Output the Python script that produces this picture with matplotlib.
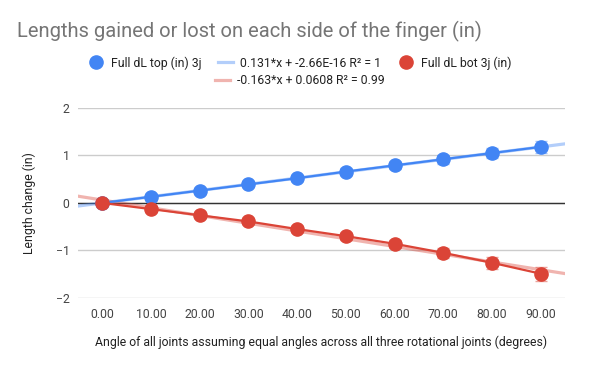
import numpy as np
import matplotlib
matplotlib.use("Agg")
import matplotlib.pyplot as plt

plt.rcParams['font.family'] = ['Roboto', 'DejaVu Sans']

# data
angles = ["0.00", "10.00", "20.00", "30.00", "40.00", "50.00", "60.00", "70.00", "80.00", "90.00"]
dl_top = [0.0, 0.13, 0.26, 0.39, 0.52, 0.66, 0.79, 0.92, 1.05, 1.18]
dl_bot = [0.0, -0.13, -0.26, -0.39, -0.55, -0.70, -0.86, -1.05, -1.26, -1.49]
err_pct = 0.10

# trendline coefficients as printed in the legend
top_fit = (0.131, -2.66e-16)
bot_fit = (-0.163, 0.0608)

BLUE = "#4285F4"
RED = "#DB4437"

fig = plt.figure(figsize=(6, 3.71), dpi=100)
ax = fig.add_axes([0.13, 0.197, 0.8117, 0.512])

x = np.arange(len(angles))
xt = np.array([-0.5, len(angles) - 0.5])

# trendlines
lt_top, = ax.plot(xt, top_fit[0] * xt + top_fit[1], color=BLUE, alpha=0.4, lw=2.3, zorder=2)
lt_bot, = ax.plot(xt, bot_fit[0] * xt + bot_fit[1], color=RED, alpha=0.4, lw=2.3, zorder=2)

# series with percent error bars
top_err = np.abs(np.array(dl_top)) * err_pct
bot_err = np.abs(np.array(dl_bot)) * err_pct
ax.errorbar(x, dl_top, yerr=top_err, fmt='none', ecolor=BLUE, alpha=0.5, capsize=4, elinewidth=1, zorder=3)
ax.errorbar(x, dl_bot, yerr=bot_err, fmt='none', ecolor=RED, alpha=0.5, capsize=4, elinewidth=1, zorder=3)
l_top, = ax.plot(x, dl_top, color=BLUE, lw=1.6, marker='o', ms=9.5, zorder=4)
l_bot, = ax.plot(x, dl_bot, color=RED, lw=1.6, marker='o', ms=9.5, zorder=4)

ax.set_xlim(-0.5, len(angles) - 0.5)
ax.set_ylim(-2, 2)
ax.set_yticks([-2, -1, 0, 1, 2])
ax.set_xticks(x)
ax.set_xticklabels(angles)
ax.grid(axis='y', color='#cccccc', lw=1)
ax.set_axisbelow(True)
ax.axhline(0, color='#333333', lw=1, zorder=1.5)
for s in ax.spines.values():
    s.set_visible(False)
ax.tick_params(length=0, labelsize=8.8, labelcolor='#444444')
ax.tick_params(axis='x', pad=7)
ax.tick_params(axis='y', pad=6)

ax.set_xlabel("Angle of all joints assuming equal angles across all three rotational joints (degrees)",
              fontsize=8.8, color='#222222', labelpad=11)
ax.set_ylabel("Length change (in)", fontsize=8.8, color='#222222', labelpad=14)

fig.text(0.028, 0.915, "Lengths gained or lost on each side of the finger (in)",
         fontsize=14.5, color='#757575', va='center')

# legend: two centred rows
leg1 = fig.legend([l_top, lt_top, l_bot],
                  ["Full dL top (in) 3j", "0.131*x + -2.66E-16 R\u00b2 = 1", "Full dL bot 3j (in)"],
                  loc='center', bbox_to_anchor=(0.5, 1 - 63 / 371), ncol=3, frameon=False,
                  fontsize=8.8, labelcolor='#222222', handlelength=1.2, columnspacing=1.4,
                  handletextpad=0.6)
for h in leg1.legend_handles:
    if h.get_marker() == 'o':
        h.set_linestyle('none')
leg2 = fig.legend([lt_bot], ["-0.163*x + 0.0608 R\u00b2 = 0.99"],
                  loc='center', bbox_to_anchor=(0.5, 1 - 81 / 371), frameon=False,
                  fontsize=8.8, labelcolor='#222222', handlelength=1.2, handletextpad=0.6)

fig.savefig("out.png", dpi=100)
